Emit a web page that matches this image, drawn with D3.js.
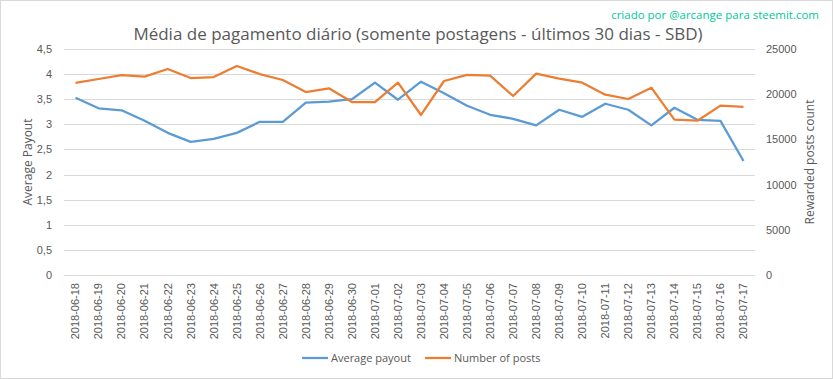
<!DOCTYPE html>
<html>
<head>
<meta charset="utf-8">
<script src="https://cdn.jsdelivr.net/npm/d3@7"></script>
<style>
  body { margin: 0; background: #fff; }
  svg { font-family: "Open Sans", "Liberation Sans", sans-serif; }
  .tick text { fill: #595959; font-size: 11px; }
  .grid line { stroke: #d9d9d9; }
</style>
</head>
<body>
<svg id="chart" width="833" height="379"></svg>
<script>
const dates = ["2018-06-18","2018-06-19","2018-06-20","2018-06-21","2018-06-22","2018-06-23","2018-06-24",
  "2018-06-25","2018-06-26","2018-06-27","2018-06-28","2018-06-29","2018-06-30","2018-07-01","2018-07-02",
  "2018-07-03","2018-07-04","2018-07-05","2018-07-06","2018-07-07","2018-07-08","2018-07-09","2018-07-10",
  "2018-07-11","2018-07-12","2018-07-13","2018-07-14","2018-07-15","2018-07-16","2018-07-17"];
const avgPayout = [3.53,3.32,3.28,3.07,2.83,2.65,2.71,2.83,3.05,3.05,3.43,3.45,3.50,3.83,3.49,
  3.85,3.62,3.37,3.19,3.11,2.98,3.29,3.15,3.41,3.29,2.98,3.33,3.09,3.07,2.27];
const postCount = [21250,21680,22100,21940,22790,21790,21900,23120,22230,21570,20240,20650,19130,19130,21270,
  17700,21460,22140,22050,19800,22270,21720,21270,19950,19470,20720,17180,17070,18730,18600];
const leftTicks = [0,0.5,1,1.5,2,2.5,3,3.5,4,4.5];
const rightTicks = [0,5000,10000,15000,20000,25000];

const svg = d3.select("#chart");
svg.append("rect").attr("x",0.5).attr("y",0.5).attr("width",832).attr("height",378)
  .attr("fill","#fff").attr("stroke","#d9d9d9");

const x = d3.scaleBand().domain(dates).range([64,755]);
const yL = d3.scaleLinear().domain([0,4.5]).range([275,49]);
const yR = d3.scaleLinear().domain([0,25000]).range([275,49]);

// gridlines
svg.append("g").attr("class","grid").selectAll("line").data(leftTicks).join("line")
  .attr("x1",64).attr("x2",755).attr("y1",d=>Math.round(yL(d))+0.5).attr("y2",d=>Math.round(yL(d))+0.5);

// left axis
const left = svg.append("g").attr("transform","translate(60,0)")
  .call(d3.axisLeft(yL).tickValues(leftTicks).tickSize(0).tickPadding(8)
    .tickFormat(d=>String(d).replace(".",",")));
left.select(".domain").remove();

// right axis
const right = svg.append("g").attr("transform","translate(759,0)")
  .call(d3.axisRight(yR).tickValues(rightTicks).tickSize(0).tickPadding(7).tickFormat(d=>String(d)));
right.select(".domain").remove();

// x axis
const bottom = svg.append("g").attr("transform","translate(0,275)")
  .call(d3.axisBottom(x).tickSize(0).tickPadding(0));
bottom.select(".domain").remove();
bottom.selectAll(".tick text")
  .attr("transform","rotate(-90)").attr("text-anchor","end")
  .attr("x",-8).attr("y",0).attr("dy","0.35em");

// axis titles
svg.append("text").attr("transform","translate(32,162) rotate(-90)").attr("text-anchor","middle")
  .attr("fill","#595959").style("font-size","12px").text("Average Payout");
svg.append("text").attr("transform","translate(814,162) rotate(-90)").attr("text-anchor","middle")
  .attr("fill","#595959").style("font-size","12px").text("Rewarded posts  count");

// title and credit
svg.append("text").attr("x",418).attr("y",40).attr("text-anchor","middle")
  .attr("fill","#595959").style("font-size","17px")
  .text("Média de pagamento diário (somente postagens - últimos 30 dias - SBD)");
svg.append("text").attr("x",819).attr("y",19).attr("text-anchor","end")
  .attr("fill","#00c89a").style("font-size","11.5px").text("criado por @arcange para steemit.com");

// lines
const cx = d => x(d) + x.bandwidth()/2;
const payLine = d3.line().x((d,i)=>cx(dates[i])).y(d=>yL(d));
const postLine = d3.line().x((d,i)=>cx(dates[i])).y(d=>yR(d));
svg.append("path").attr("d",payLine(avgPayout)).attr("fill","none")
  .attr("stroke","#5b9bd5").attr("stroke-width",2.25).attr("stroke-linejoin","round");
svg.append("path").attr("d",postLine(postCount)).attr("fill","none")
  .attr("stroke","#ed7d31").attr("stroke-width",2.25).attr("stroke-linejoin","round");

// legend
const legend = [{name:"Average payout",color:"#5b9bd5",x:302},{name:"Number of posts",color:"#ed7d31",x:425}];
const lg = svg.append("g").selectAll("g").data(legend).join("g");
lg.append("line").attr("x1",d=>d.x).attr("x2",d=>d.x+26).attr("y1",358).attr("y2",358)
  .attr("stroke",d=>d.color).attr("stroke-width",2.25);
lg.append("text").attr("x",d=>d.x+29).attr("y",358).attr("dy","0.35em")
  .attr("fill","#595959").style("font-size","11px").text(d=>d.name);
</script>
</body>
</html>
